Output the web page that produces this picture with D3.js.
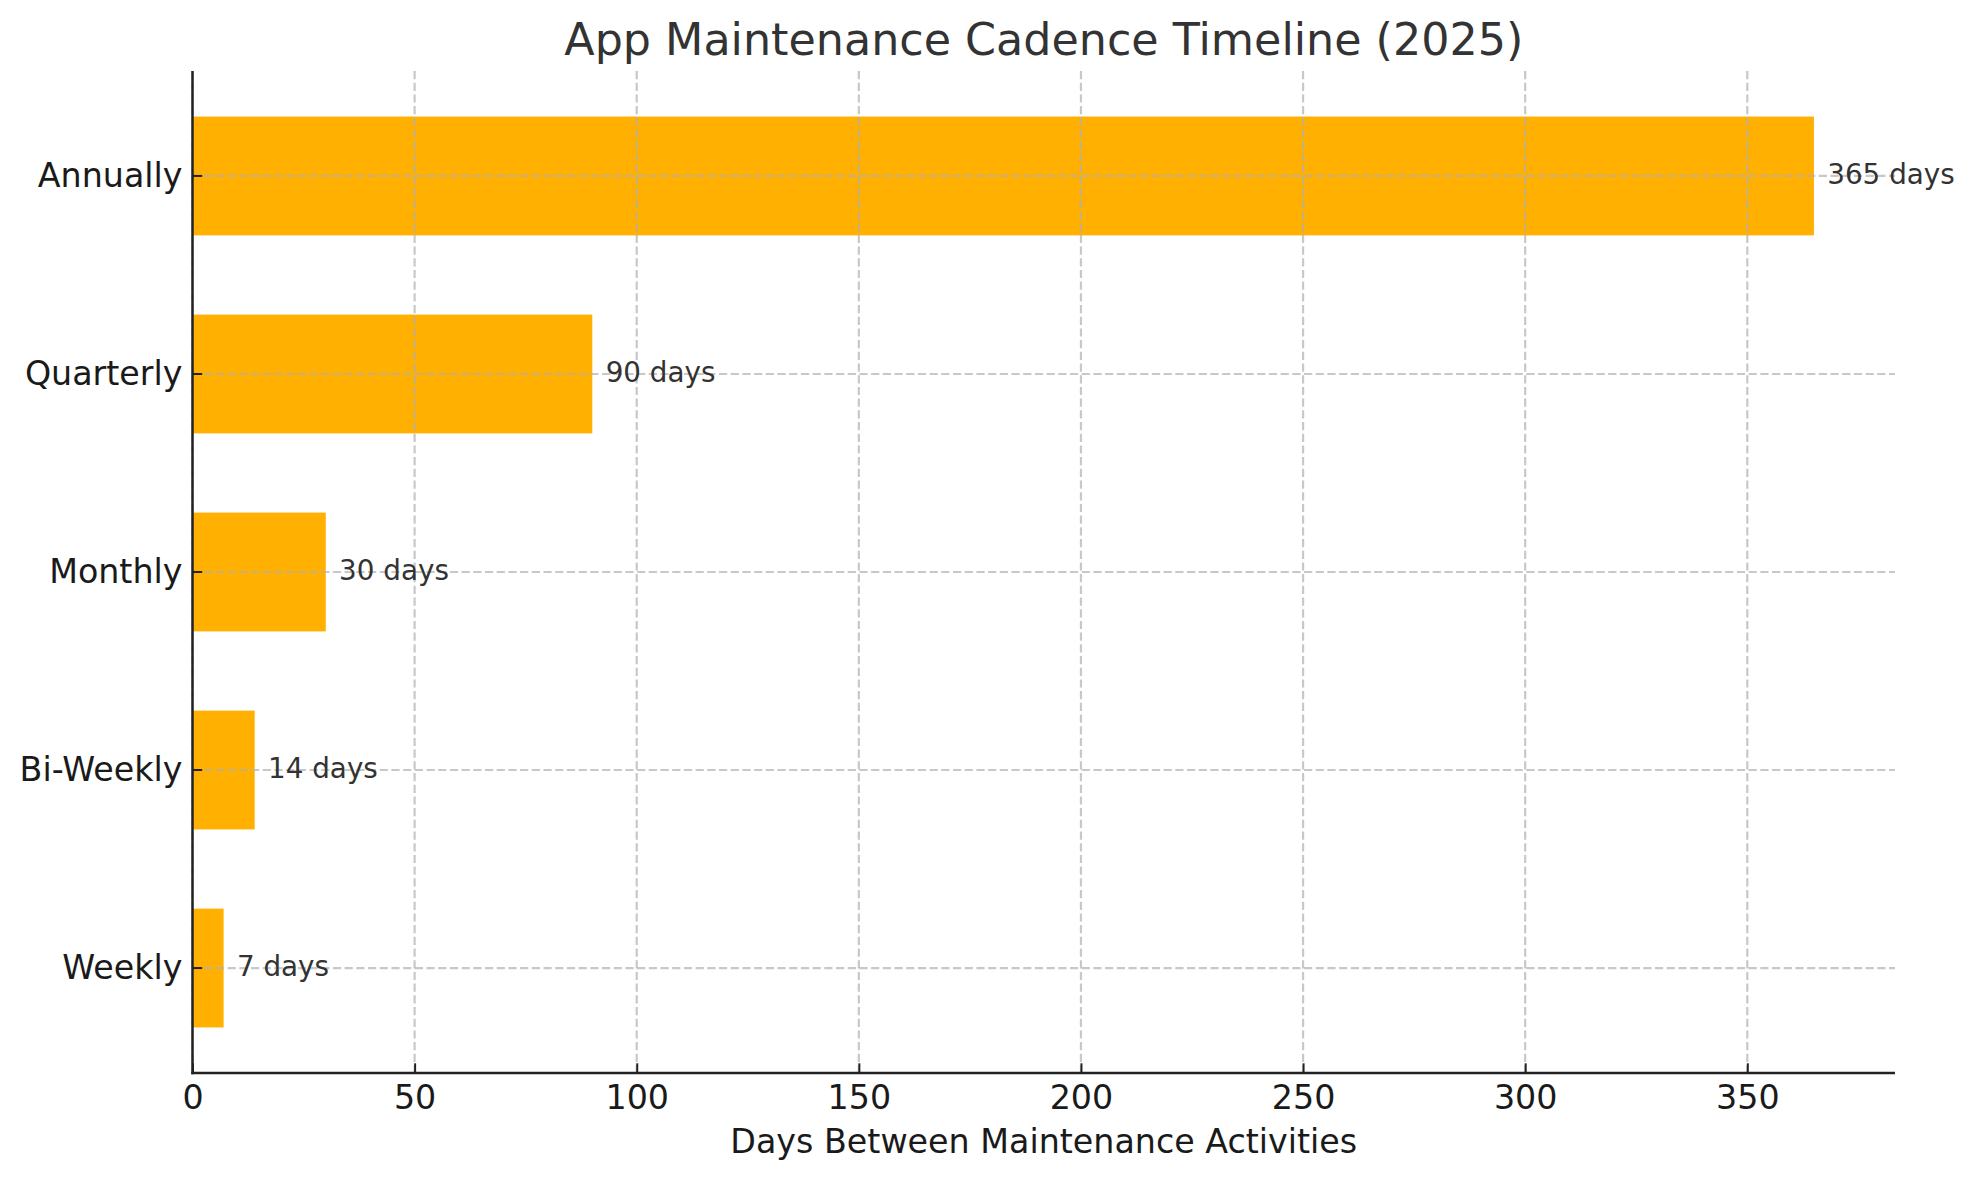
<!DOCTYPE html>
<html>
<head>
<meta charset="utf-8">
<script src="https://cdn.jsdelivr.net/npm/d3@7/dist/d3.min.js"></script>
<style>
  html, body { margin: 0; padding: 0; background: #fff; }
  svg { display: block; }
  text { font-family: "DejaVu Sans", sans-serif; }
</style>
</head>
<body>
<svg id="chart" width="1973" height="1180"></svg>
<script>
// ---- data ----
const categories = ["Weekly", "Bi-Weekly", "Monthly", "Quarterly", "Annually"];
const days = [7, 14, 30, 90, 365];
const xTicks = [0, 50, 100, 150, 200, 250, 300, 350];
const titleText = "App Maintenance Cadence Timeline (2025)";
const xLabelText = "Days Between Maintenance Activities";

// ---- layout ----
const W = 1973, H = 1180;
const M = { left: 192.5, right: 1895, top: 71, bottom: 1073 };
const barColor = "#FFB000";
const gridColor = "#b0b0b0";
const spineColor = "#222";

const svg = d3.select("#chart");

const x = d3.scaleLinear()
  .domain([0, d3.max(days) * 1.05])
  .range([M.left, M.right]);

const y = d3.scaleBand()
  .domain(categories.slice().reverse())
  .range([M.top, M.bottom])
  .paddingInner(0.4)
  .paddingOuter(0.23);

const data = categories.map((c, i) => ({ cat: c, v: days[i] }));

// bars
svg.append("g").selectAll("rect").data(data).join("rect")
  .attr("x", x(0))
  .attr("y", d => y(d.cat))
  .attr("width", d => x(d.v) - x(0))
  .attr("height", y.bandwidth())
  .attr("fill", barColor);

// grid (above bars, as in matplotlib default)
const grid = svg.append("g")
  .attr("stroke", gridColor)
  .attr("stroke-opacity", 0.7)
  .attr("stroke-width", 2.2)
  .attr("stroke-dasharray", "8.2,3.5");
grid.selectAll("line.v").data(xTicks).join("line")
  .attr("class", "v")
  .attr("x1", d => x(d)).attr("x2", d => x(d))
  .attr("y1", M.top).attr("y2", M.bottom);
grid.selectAll("line.h").data(categories).join("line")
  .attr("class", "h")
  .attr("x1", M.left).attr("x2", M.right)
  .attr("y1", d => y(d) + y.bandwidth() / 2)
  .attr("y2", d => y(d) + y.bandwidth() / 2);

// bar value labels
svg.append("g").selectAll("text").data(data).join("text")
  .attr("x", d => x(d.v + 3))
  .attr("y", d => y(d.cat) + y.bandwidth() / 2)
  .attr("dy", "0.3em")
  .attr("font-size", 27.8)
  .attr("fill", "#333")
  .text(d => `${d.v} days`);

// x axis
const xAxis = d3.axisBottom(x)
  .tickValues(xTicks)
  .tickSize(-9.7)
  .tickPadding(12)
  .tickFormat(d3.format("d"));
const gx = svg.append("g")
  .attr("transform", `translate(0,${M.bottom})`)
  .call(xAxis);
gx.select(".domain").remove();
gx.selectAll(".tick line").attr("stroke", spineColor).attr("stroke-width", 2);
gx.selectAll(".tick text")
  .attr("font-size", 33.3)
  .attr("font-family", "DejaVu Sans")
  .attr("fill", "#1a1a1a")
  .attr("dy", "0.71em");

// y axis
const yAxis = d3.axisLeft(y)
  .tickSize(-9.7)
  .tickPadding(10);
const gy = svg.append("g")
  .attr("transform", `translate(${M.left},0)`)
  .call(yAxis);
gy.select(".domain").remove();
gy.selectAll(".tick line").attr("stroke", spineColor).attr("stroke-width", 2);
gy.selectAll(".tick text")
  .attr("font-size", 33.3)
  .attr("font-family", "DejaVu Sans")
  .attr("fill", "#1a1a1a");

// spines
svg.append("line")
  .attr("x1", M.left).attr("x2", M.left)
  .attr("y1", M.top).attr("y2", M.bottom + 1.25)
  .attr("stroke", spineColor).attr("stroke-width", 2.5);
svg.append("line")
  .attr("x1", M.left - 1.25).attr("x2", M.right)
  .attr("y1", M.bottom).attr("y2", M.bottom)
  .attr("stroke", spineColor).attr("stroke-width", 2.5);

// title
svg.append("text")
  .attr("x", (M.left + M.right) / 2)
  .attr("y", 55)
  .attr("text-anchor", "middle")
  .attr("font-size", 44.4)
  .attr("fill", "#333")
  .text(titleText);

// x label
svg.append("text")
  .attr("x", (M.left + M.right) / 2)
  .attr("y", 1153)
  .attr("text-anchor", "middle")
  .attr("font-size", 33.3)
  .attr("fill", "#1a1a1a")
  .text(xLabelText);
</script>
</body>
</html>
